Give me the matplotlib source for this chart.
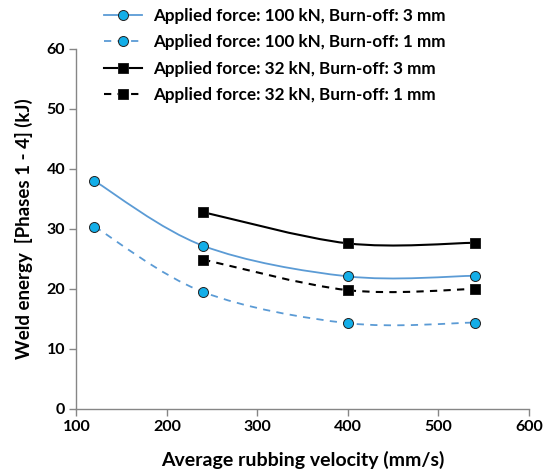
import matplotlib
matplotlib.use("Agg")
import matplotlib.pyplot as plt
from matplotlib.path import Path
from matplotlib.patches import PathPatch
from matplotlib.lines import Line2D

plt.rcParams['font.family'] = ['Lato', 'DejaVu Sans']

# Data
vel_100kN = [120, 240, 400, 540]
energy_100kN_3mm = [38.0, 27.2, 22.1, 22.2]
energy_100kN_1mm = [30.4, 19.5, 14.3, 14.4]
vel_32kN = [240, 400, 540]
energy_32kN_3mm = [32.8, 27.6, 27.7]
energy_32kN_1mm = [24.9, 19.8, 20.0]

labels = ["Applied force: 100 kN, Burn-off: 3 mm",
          "Applied force: 100 kN, Burn-off: 1 mm",
          "Applied force: 32 kN, Burn-off: 3 mm",
          "Applied force: 32 kN, Burn-off: 1 mm"]
x_ticks = [100, 200, 300, 400, 500, 600]
y_ticks = [0, 10, 20, 30, 40, 50, 60]

BLUE_LINE = '#5B9BD5'
BLUE_MARK = '#13AEE8'
BLACK = '#000000'


def smooth_path(xs, ys):
    """Excel-like smoothed line (Catmull-Rom as cubic Bezier segments)."""
    pts = list(zip(xs, ys))
    verts = [pts[0]]
    codes = [Path.MOVETO]
    n = len(pts)
    for i in range(n - 1):
        p0 = pts[i - 1] if i > 0 else pts[i]
        p1 = pts[i]
        p2 = pts[i + 1]
        p3 = pts[i + 2] if i + 2 < n else pts[i + 1]
        c1 = (p1[0] + (p2[0] - p0[0]) / 6.0, p1[1] + (p2[1] - p0[1]) / 6.0)
        c2 = (p2[0] - (p3[0] - p1[0]) / 6.0, p2[1] - (p3[1] - p1[1]) / 6.0)
        verts += [c1, c2, p2]
        codes += [Path.CURVE4] * 3
    return Path(verts, codes)


fig = plt.figure(figsize=(5.43, 4.76), dpi=100)
ax = fig.add_axes([0.1407, 0.1408, 0.8333, 0.7563])

series = [
    (vel_100kN, energy_100kN_3mm, BLUE_LINE, '-', 'o', BLUE_MARK, 1.3),
    (vel_100kN, energy_100kN_1mm, BLUE_LINE, (0, (4, 3.5)), 'o', BLUE_MARK, 1.3),
    (vel_32kN, energy_32kN_3mm, BLACK, '-', 's', BLACK, 1.5),
    (vel_32kN, energy_32kN_1mm, BLACK, (0, (3.5, 3)), 's', BLACK, 1.5),
]

handles = []
for (xs, ys, lc, ls, mk, mc, lw), lab in zip(series, labels):
    patch = PathPatch(smooth_path(xs, ys), facecolor='none', edgecolor=lc,
                      linestyle=ls, linewidth=lw, zorder=2)
    ax.add_patch(patch)
    ax.plot(xs, ys, linestyle='none', marker=mk, markersize=7.2,
            markerfacecolor=mc, markeredgecolor='#222222',
            markeredgewidth=0.7, zorder=3)
    handles.append(Line2D([0], [0], color=lc, linestyle=ls, linewidth=lw,
                          marker=mk, markersize=7.2, markerfacecolor=mc,
                          markeredgecolor='#222222', markeredgewidth=0.7))

ax.set_xlim(100, 600)
ax.set_ylim(0, 60)
ax.set_xticks(x_ticks)
ax.set_yticks(y_ticks)

for s in ['top', 'right']:
    ax.spines[s].set_visible(False)
for s in ['left', 'bottom']:
    ax.spines[s].set_color('#868686')
    ax.spines[s].set_linewidth(1.0)
ax.tick_params(direction='out', length=5, width=1.0, color='#868686',
               labelsize=11.5, pad=3)
for t in ax.get_xticklabels() + ax.get_yticklabels():
    t.set_fontweight('bold')

ax.set_xlabel('Average rubbing velocity (mm/s)', fontsize=14,
              fontweight='bold', labelpad=12)
ax.set_ylabel('Weld energy  [Phases 1 - 4] (kJ)', fontsize=13.5,
              fontweight='bold', labelpad=10)

leg = fig.legend(handles, labels, loc='upper left',
                 bbox_to_anchor=(0.1915, 0.983), frameon=False,
                 borderaxespad=0, borderpad=0,
                 prop={'weight': 'bold', 'size': 12.3},
                 handlelength=2.2, handletextpad=0.7, labelspacing=0.6)

fig.savefig('out.png', dpi=100)
